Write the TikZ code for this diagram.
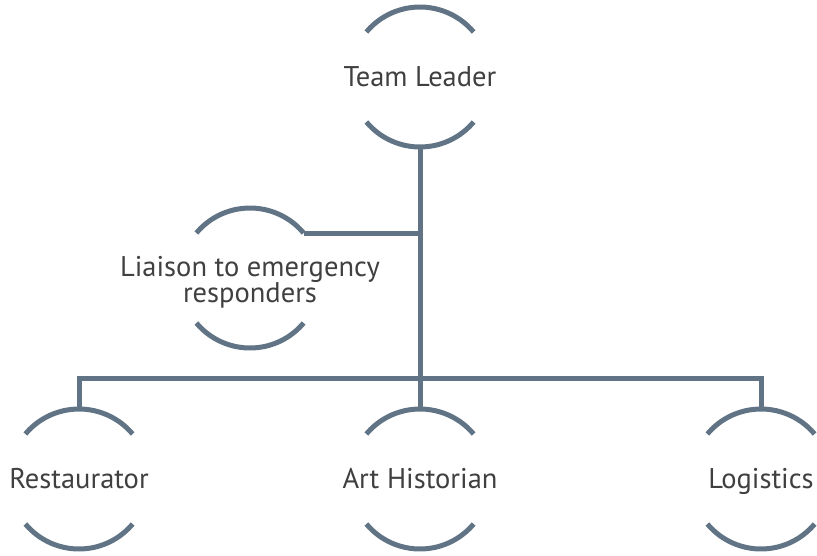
\documentclass[tikz,border=0pt]{standalone}
\usepackage{fontspec}
\setmainfont{PT Sans}
\begin{document}
\definecolor{ringcol}{RGB}{97,116,133}
\definecolor{txtcol}{RGB}{64,64,64}
\begin{tikzpicture}[x=1pt,y=1pt,
  ring/.style={circle,draw=none,inner sep=0pt,outer sep=0pt,minimum size=140pt},
  arcs/.style={draw=ringcol,line width=5pt},
  link/.style={draw=ringcol,line width=5pt},
  label/.style={text=txtcol,font=\fontsize{28.5}{26}\selectfont,align=center,inner sep=0pt},
  oneline/.style={label,anchor=base,yshift=-9.5pt}]
\useasboundingbox (0,0) rectangle (817,-555);

% ring placeholders
\node[ring] (tl) at (420,-77) {};
\node[ring] (li) at (250,-278) {};
\node[ring] (rs) at (79,-479) {};
\node[ring] (ah) at (420,-479) {};
\node[ring] (lg) at (761,-479) {};

% upper and lower arcs of every ring
\foreach \n in {tl,li,rs,ah,lg}{
  \draw[arcs] (\n.40) arc[start angle=40,end angle=140,radius=70];
  \draw[arcs] (\n.220) arc[start angle=220,end angle=320,radius=70];
}

% labels
\node[oneline] at (tl) {Team Leader};
\node[label,anchor=north,yshift=22pt] at (li) {Liaison to emergency\\responders};
\node[oneline] at (rs) {Restaurator};
\node[oneline] at (ah) {Art Historian};
\node[oneline] at (lg) {Logistics};

% connectors
\coordinate (bus) at (420,-378);
\draw[link] (tl.south) -- (ah.north);
\draw[link] (li.40) -- (li.40 -| tl.south);
\draw[link] (rs.north) -- (rs.north |- bus) -- (lg.north |- bus) -- (lg.north);
\end{tikzpicture}
\end{document}
